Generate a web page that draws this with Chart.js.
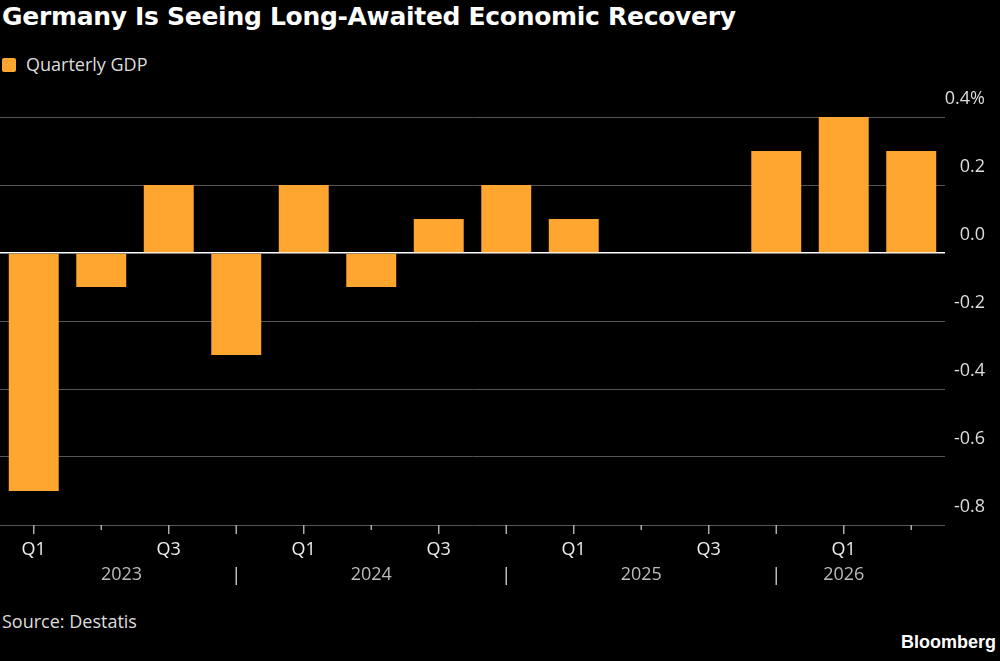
<!DOCTYPE html>
<html><head><meta charset="utf-8">
<script src="https://cdn.jsdelivr.net/npm/chart.js@4"></script>
<style>
body{margin:0;background:#000;width:1000px;height:661px;overflow:hidden;font-family:"Open Sans",sans-serif;}
#t{position:absolute;left:2px;top:2px;color:#fff;font-size:25px;font-weight:bold;font-family:"DejaVu Sans",sans-serif;letter-spacing:-0.3px}
#lg{position:absolute;left:2px;top:52px;color:#ddd;font-size:18px}
#lg span{display:inline-block;width:14px;height:14px;background:#ffa630;border-radius:2px;margin-right:10px;vertical-align:-1px}
#src{position:absolute;left:2px;top:609px;color:#ddd;font-size:18px}
#bb{position:absolute;right:4px;top:632px;color:#fff;font-size:18px;font-weight:bold;font-family:"Liberation Sans",sans-serif}
canvas{position:absolute;left:0;top:0}
</style></head><body>
<div id="t">Germany Is Seeing Long-Awaited Economic Recovery</div>
<div id="lg"><span></span>Quarterly GDP</div>
<div id="src">Source: Destatis</div>
<div id="bb">Bloomberg</div>
<canvas id="c" width="1000" height="661"></canvas>
<script>
const categories=["2023 Q1","2023 Q2","2023 Q3","2023 Q4","2024 Q1","2024 Q2","2024 Q3","2024 Q4","2025 Q1","2025 Q2","2025 Q3","2025 Q4","2026 Q1","2026 Q2"];
const gdp=[-0.7,-0.1,0.2,-0.3,0.2,-0.1,0.1,0.2,0.1,0,0,0.3,0.4,0.3];
const quarterLabels=["Q1","","Q3","","Q1","","Q3","","Q1","","Q3","","Q1",""];
const years=["2023","2024","2025","2026"];
const yearPos=[1.3,5,9,12];
const yearSep=[3,7,11];
const yTicks=[0.4,0.2,0,-0.2,-0.4,-0.6,-0.8];
const xPlug={id:'xl',afterDraw(ch){
 const c=ch.ctx,x=ch.scales.x,b=ch.chartArea.bottom;
 c.save();c.strokeStyle='#aaa';c.lineWidth=1.5;
 categories.forEach((_,i)=>{const p=x.getPixelForValue(i);let l=quarterLabels[i]?9:(yearSep.includes(i)?9:5);
  c.beginPath();c.moveTo(p,b);c.lineTo(p,b+l);c.stroke();});
 c.font='18px "Open Sans"';c.textAlign='center';c.textBaseline='middle';c.fillStyle='#eee';
 quarterLabels.forEach((q,i)=>{if(q)c.fillText(q,x.getPixelForValue(i),b+25);});
 c.fillStyle='#bbb';
 years.forEach((y,i)=>c.fillText(y,x.getPixelForValue(yearPos[i]),b+50));
 c.strokeStyle='#bbb';
 yearSep.forEach(s=>{const p=x.getPixelForValue(s);c.beginPath();c.moveTo(p,b+42);c.lineTo(p,b+60);c.stroke();});
 c.restore();}};
new Chart(document.getElementById('c'),{type:'bar',
 data:{labels:categories,datasets:[{data:gdp,backgroundColor:'#ffa630',barPercentage:0.74,categoryPercentage:1}]},
 options:{responsive:false,animation:false,events:[],
  layout:{padding:{top:117,bottom:136,right:15,left:0}},
  plugins:{legend:{display:false},tooltip:{enabled:false}},
  scales:{
   x:{display:false},
   y:{position:'right',min:-0.8,max:0.4,afterFit(s){s.width=40;},
    afterBuildTicks(s){s.ticks=yTicks.map(v=>({value:v}));},
    border:{display:false},
    grid:{drawTicks:false,color:c=>c.tick.value===0?'#fff':'#555',lineWidth:c=>c.tick.value===0?1.5:1},
    ticks:{crossAlign:'far',padding:0,labelOffset:-18,color:'#ddd',font:{size:18,family:'"Open Sans"'},
     callback:(v)=>{const s=v.toFixed(1);return v===0.4?s+'%':s;}}}}},
 plugins:[xPlug]});
</script></body></html>
